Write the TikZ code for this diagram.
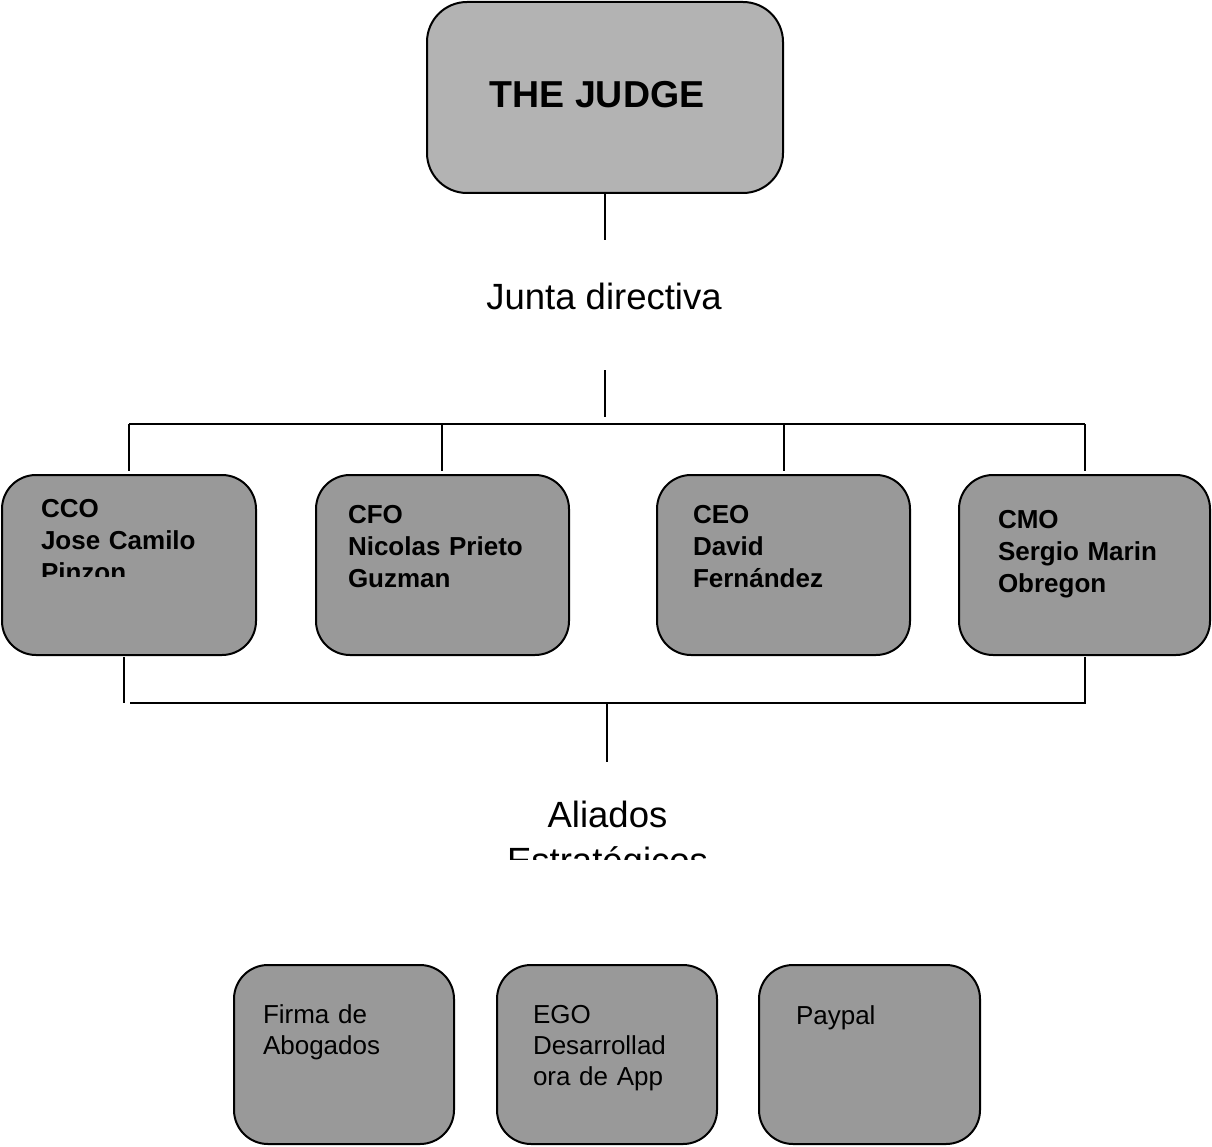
\documentclass[tikz,border=0pt]{standalone}
\usepackage{fontspec}
\setmainfont{Liberation Sans}
\definecolor{topgray}{RGB}{179,179,179}
\definecolor{boxgray}{RGB}{153,153,153}
\begin{document}
\begin{tikzpicture}[x=1pt,y=-1pt,line width=2pt,
  judgebox/.style={draw=black,fill=topgray,rounded corners=40pt,minimum width=356pt,minimum height=191pt,inner sep=0pt},
  rolebox/.style={draw=black,fill=boxgray,rounded corners=34pt,minimum height=180pt,inner sep=0pt},
  allybox/.style={draw=black,fill=boxgray,rounded corners=34pt,minimum height=179pt,inner sep=0pt},
  roletext/.style={anchor=base west,inner sep=0pt,text width=215pt,align=left,font=\fontsize{26}{32}\selectfont\bfseries},
  allytext/.style={anchor=base west,inner sep=0pt,text width=180pt,align=left,font=\fontsize{26}{31}\selectfont},
  bigtext/.style={anchor=base,inner sep=0pt,font=\fontsize{36.5}{46}\selectfont},
  link/.style={draw=black,line width=2pt}
]
\useasboundingbox (0,0) rectangle (1212,1147);

% top
\node[judgebox] (judge) at (605,97.5) {};
\node[bigtext,font=\fontsize{37.5}{46}\selectfont\bfseries] (judgetext) at (597,108) {THE JUDGE};
\coordinate (j1) at (605,240);
\draw[link] (judge.south) -- (j1);

\node[bigtext] (junta) at (604,310) {Junta directiva};
\coordinate (j2) at (605,370);
\coordinate (j3) at (605,417);
\draw[link] (j2) -- (j3);

% role boxes
\node[rolebox,minimum width=254pt] (cco) at (129,565) {};
\node[rolebox,minimum width=253pt] (cfo) at (442.5,565) {};
\node[rolebox,minimum width=253pt] (ceo) at (783.5,565) {};
\node[rolebox,minimum width=251pt] (cmo) at (1084.5,565) {};

% upper bus
\coordinate (hL) at (129,424);
\coordinate (hB) at (442,424);
\coordinate (hC) at (784,424);
\coordinate (hR) at (1085,424);
\coordinate (tA) at (129,471);
\coordinate (tB) at (442,471);
\coordinate (tC) at (784,471);
\coordinate (tD) at (1085,471);
\draw[link] (hL) -- (hR);
\draw[link] (hL) -- (tA);
\draw[link] (hB) -- (tB);
\draw[link] (hC) -- (tC);
\draw[link] (hR) -- (tD);

% role texts
\begin{scope}
  \clip (0,480) rectangle (260,576);
  \node[roletext] (ccotext) at (40,517) {CCO\\Jose Camilo\\Pinzon};
\end{scope}
\node[roletext] (cfotext) at (347,523) {CFO\\Nicolas Prieto\\Guzman};
\node[roletext] (ceotext) at (692,523) {CEO\\David\\Fernández};
\node[roletext] (cmotext) at (997,528) {CMO\\Sergio Marin\\Obregon};

% lower bus
\coordinate (bA) at (124,657);
\coordinate (bA2) at (124,703);
\coordinate (bL) at (130,703);
\coordinate (bM) at (607,703);
\coordinate (bR) at (1085,703);
\coordinate (bD) at (1085,657);
\coordinate (bE) at (607,762);
\draw[link] (bA) -- (bA2);
\draw[link] (bL) -- (bR) -- (bD);
\draw[link] (bM) -- (bE);

% Aliados
\begin{scope}
  \clip (400,780) rectangle (820,859);
  \node[bigtext,text width=320pt,align=center] (aliados) at (607.5,827) {Aliados\\Estratégicos};
\end{scope}

% ally boxes
\node[allybox,minimum width=220pt] (firma) at (344,1054.5) {};
\node[allybox,minimum width=220pt] (ego) at (607,1054.5) {};
\node[allybox,minimum width=221pt] (paypal) at (869.5,1054.5) {};
\node[allytext] (firmatext) at (262,1023) {Firma de\\Abogados};
\node[allytext] (egotext) at (532,1023) {EGO\\Desarrollad\\ora de App};
\node[allytext] (paypaltext) at (795,1024) {Paypal};
\end{tikzpicture}
\end{document}
